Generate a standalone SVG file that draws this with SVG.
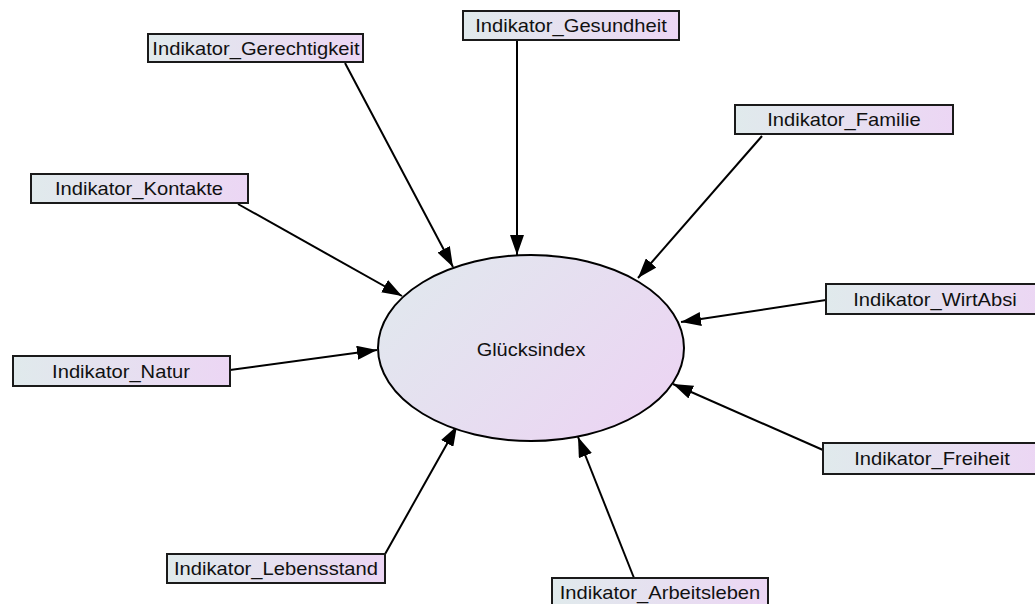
<svg xmlns="http://www.w3.org/2000/svg" width="1035" height="604" viewBox="0 0 1035 604">
<defs>
<linearGradient id="gBox" x1="0" y1="0" x2="1" y2="0">
<stop offset="0" stop-color="#e0eaec"/>
<stop offset="1" stop-color="#ecd6f4"/>
</linearGradient>
<linearGradient id="gEll" x1="0" y1="0.2" x2="1" y2="0.8">
<stop offset="0" stop-color="#e1e8ee"/>
<stop offset="1" stop-color="#ecd4f3"/>
</linearGradient>
<marker id="arr" viewBox="0 0 20 14" refX="20" refY="7" markerWidth="20" markerHeight="14" markerUnits="userSpaceOnUse" orient="auto">
<path d="M0,0 L20,7 L0,14 Z" fill="#000"/>
</marker>
</defs>
<style>
.box{fill:url(#gBox);stroke:#1a1a1a;stroke-width:2}
.lbl{font-family:"Liberation Sans",Arial,sans-serif;font-size:18px;fill:#111;text-anchor:middle}
.edge{stroke:#000;stroke-width:2;fill:none;marker-end:url(#arr)}
</style>
<rect width="1035" height="604" fill="#fff"/>
<g id="connectors">
<line class="edge" x1="345" y1="63" x2="453" y2="267"/>
<line class="edge" x1="517" y1="41" x2="517" y2="255"/>
<line class="edge" x1="762" y1="136" x2="638" y2="278"/>
<line class="edge" x1="238" y1="204" x2="402" y2="296"/>
<line class="edge" x1="826" y1="300" x2="681" y2="322"/>
<line class="edge" x1="230" y1="370" x2="377" y2="350"/>
<line class="edge" x1="823" y1="450" x2="673" y2="384"/>
<line class="edge" x1="384" y1="556" x2="457" y2="426"/>
<line class="edge" x1="634" y1="578" x2="578" y2="437"/>
</g>
<g id="gluecksindex">
<ellipse cx="531" cy="348" rx="153" ry="93" fill="url(#gEll)" stroke="#000" stroke-width="2"/>
<text class="lbl" transform="translate(531,356) scale(1.11,1)">Glücksindex</text>
</g>
<g id="gerechtigkeit">
<rect class="box" x="148" y="34" width="215" height="28"/>
<text class="lbl" transform="translate(256,55) scale(1.12,1)">Indikator_Gerechtigkeit</text>
</g>
<g id="gesundheit">
<rect class="box" x="463" y="11" width="216" height="29"/>
<text class="lbl" transform="translate(571,32) scale(1.12,1)">Indikator_Gesundheit</text>
</g>
<g id="familie">
<rect class="box" x="735" y="105" width="218" height="29"/>
<text class="lbl" transform="translate(844,126) scale(1.12,1)">Indikator_Familie</text>
</g>
<g id="kontakte">
<rect class="box" x="31" y="174" width="217" height="29"/>
<text class="lbl" transform="translate(139,195) scale(1.12,1)">Indikator_Kontakte</text>
</g>
<g id="wirtabsi">
<rect class="box" x="826" y="284" width="218" height="30"/>
<text class="lbl" transform="translate(935,306) scale(1.12,1)">Indikator_WirtAbsi</text>
</g>
<g id="natur">
<rect class="box" x="13" y="356" width="217" height="30"/>
<text class="lbl" transform="translate(121,378) scale(1.12,1)">Indikator_Natur</text>
</g>
<g id="freiheit">
<rect class="box" x="823" y="443" width="218" height="31"/>
<text class="lbl" transform="translate(932,465) scale(1.12,1)">Indikator_Freiheit</text>
</g>
<g id="lebensstand">
<rect class="box" x="167" y="554" width="218" height="29"/>
<text class="lbl" transform="translate(276,575) scale(1.12,1)">Indikator_Lebensstand</text>
</g>
<g id="arbeitsleben">
<rect class="box" x="552" y="578" width="216" height="29"/>
<text class="lbl" transform="translate(660,599) scale(1.12,1)">Indikator_Arbeitsleben</text>
</g>
</svg>
